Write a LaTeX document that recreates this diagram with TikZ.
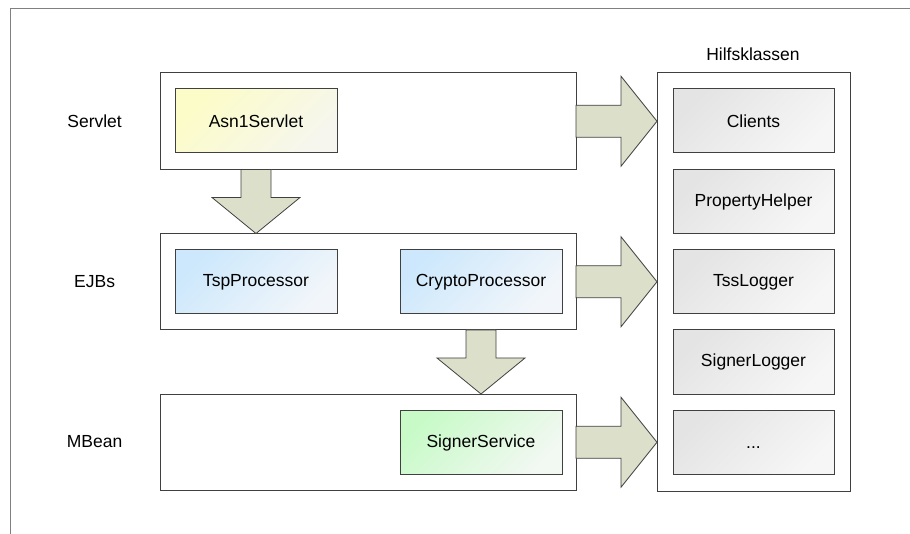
\documentclass[tikz,border=0pt]{standalone}
\usepackage{fontspec}
\setmainfont{Liberation Sans}
\usetikzlibrary{calc}
\definecolor{edgec}{HTML}{404040}
\definecolor{framec}{HTML}{808080}
\definecolor{arrowc}{HTML}{DCDFCA}
\definecolor{yelA}{HTML}{FCFCC8}
\definecolor{yelB}{HTML}{F6F6EE}
\definecolor{bluA}{HTML}{CDE8FC}
\definecolor{bluB}{HTML}{F2F6FA}
\definecolor{grnA}{HTML}{C8FAC8}
\definecolor{grnB}{HTML}{F2F8F2}
\definecolor{gryA}{HTML}{E4E4E4}
\definecolor{gryB}{HTML}{F6F6F6}
\newcommand{\dglabel}{\fontsize{17.5}{20}\selectfont}
\begin{document}
\begin{tikzpicture}[x=1pt,y=-1pt,
  lane/.style={draw=edgec, line width=1pt, fill=white, minimum width=416pt, minimum height=96.5pt, anchor=north west, inner sep=0pt, outer sep=0pt},
  holder/.style={draw=edgec, line width=1pt, fill=white, minimum width=193pt, minimum height=418pt, anchor=north west, inner sep=0pt, outer sep=0pt},
  comp/.style={draw=edgec, line width=1pt, minimum width=162pt, minimum height=64pt, anchor=north west, inner sep=0pt, outer sep=0pt, font=\dglabel, text=black},
  yelbox/.style={comp, top color=yelA, middle color=yelA, bottom color=yelB, shading angle=45},
  blubox/.style={comp, top color=bluA, middle color=bluA, bottom color=bluB, shading angle=45},
  grnbox/.style={comp, top color=grnA, middle color=grnA, bottom color=grnB, shading angle=45},
  grybox/.style={comp, minimum width=161pt, top color=gryA, middle color=gryA, bottom color=gryB, shading angle=45},
  lanelabel/.style={font=\dglabel, text=black, inner sep=0pt},
  blockarrow/.style={draw=edgec, line width=0.8pt, fill=arrowc, line join=miter}
]
\useasboundingbox (0,0) rectangle (910,534);
\draw[framec, line width=1.5pt] (10.5,534) -- (10.5,8.5) -- (910,8.5);

% lanes
\node[lane] (servlet) at (160,73) {};
\node[lane] (ejbs) at (160,233.5) {};
\node[lane] (mbean) at (160,394) {};
\node[holder] (hilfs) at (657,73) {};

% labels
\node[lanelabel] (lservlet) at (94.6,121) {Servlet};
\node[lanelabel] (lejbs) at (94.6,282) {EJBs};
\node[lanelabel] (lmbean) at (94.6,442) {MBean};
\node[lanelabel] (lhilfs) at (753,54.5) {Hilfsklassen};

% components
\node[yelbox] (asn) at (175,89) {Asn1Servlet};
\node[blubox] (tsp) at (175,250) {TspProcessor};
\node[blubox] (crypto) at (400,250) {CryptoProcessor};
\node[grnbox] (signer) at (400,410.5) {SignerService};

% helpers
\node[grybox] (clients) at (673,89) {Clients};
\node[grybox] (prop) at (673,169.5) {PropertyHelper};
\node[grybox] (tss) at (673,250) {TssLogger};
\node[grybox] (slog) at (673,330) {SignerLogger};
\node[grybox] (dots) at (673,410.5) {\vphantom{C}...};

% right block arrows
\foreach \src in {servlet,ejbs,mbean}{
  \coordinate (T) at (hilfs.west |- \src.east);
  \draw[blockarrow] ($(\src.east)+(0,-16)$) -- ($(T)+(-36,-16)$) -- ($(T)+(-36,-45)$) -- (T)
    -- ($(T)+(-36,45)$) -- ($(T)+(-36,16)$) -- ($(\src.east)+(0,16)$) -- cycle;
}

% down block arrows
\coordinate (S1) at (asn.south |- servlet.south);
\coordinate (T1) at (asn.south |- ejbs.north);
\draw[blockarrow] ($(S1)+(-15,0)$) -- ($(T1)+(-15,-36)$) -- ($(T1)+(-44,-36)$) -- (T1)
  -- ($(T1)+(44,-36)$) -- ($(T1)+(15,-36)$) -- ($(S1)+(15,0)$) -- cycle;
\coordinate (S2) at (crypto.south |- ejbs.south);
\coordinate (T2) at (signer.north |- mbean.north);
\draw[blockarrow] ($(S2)+(-15,0)$) -- ($(T2)+(-15,-36)$) -- ($(T2)+(-44,-36)$) -- (T2)
  -- ($(T2)+(44,-36)$) -- ($(T2)+(15,-36)$) -- ($(S2)+(15,0)$) -- cycle;
\end{tikzpicture}
\end{document}
